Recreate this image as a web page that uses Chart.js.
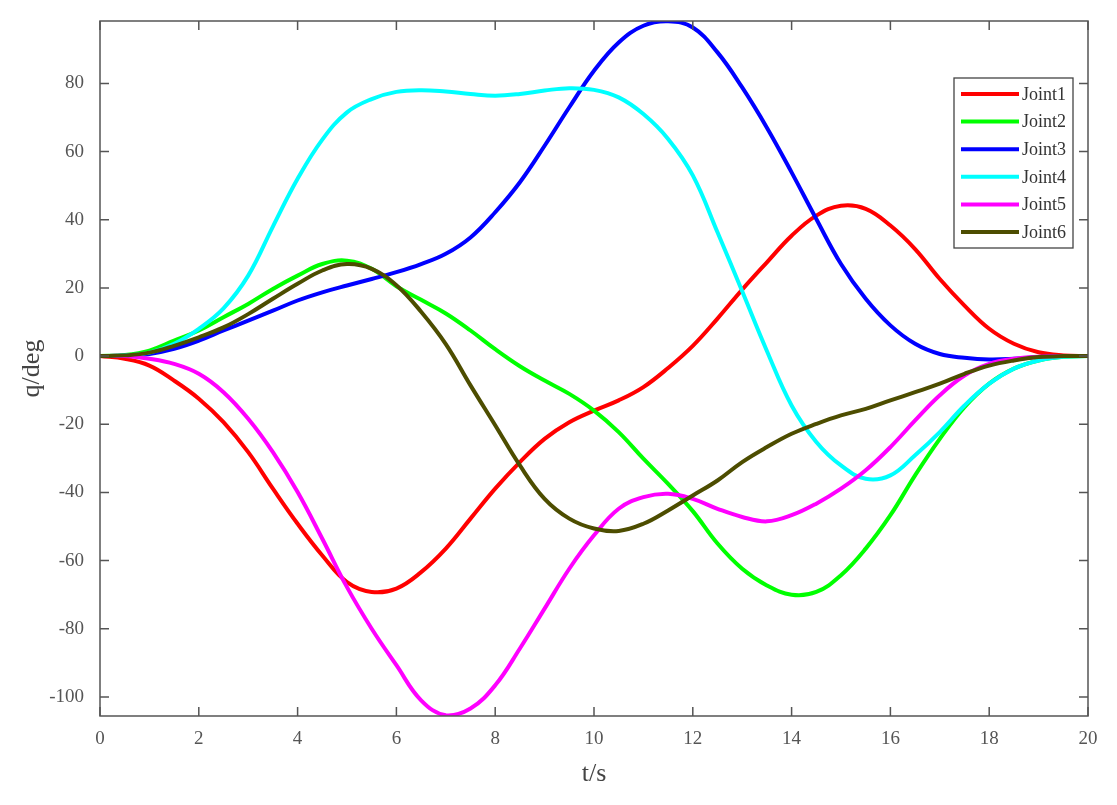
<!DOCTYPE html>
<html>
<head>
<meta charset="utf-8">
<script src="https://cdn.jsdelivr.net/npm/chart.js@4.4.1/dist/chart.umd.min.js"></script>
<style>
  html, body { margin: 0; padding: 0; background: #ffffff; }
  #wrap { width: 1117px; height: 805px; }
</style>
</head>
<body>
<div id="wrap"><canvas id="jointChart" width="1117" height="805"></canvas></div>
<script>
// time samples (s)
const timeValues = [0, 0.5, 1, 1.5, 2, 2.5, 3, 3.5, 4, 4.5, 5, 5.5, 6, 6.5, 7, 7.5, 8, 8.5, 9, 9.5,
    10, 10.5, 11, 11.5, 12, 12.5, 13, 13.5, 14, 14.5, 15, 15.5, 16, 16.5, 17, 17.5, 18, 18.5, 19, 19.5, 20];

// joint angles (deg)
const joint1 = [0, -0.8, -2.8, -7.2, -12.5, -19.4, -28.2, -38.9, -49.2, -58.5, -66.3, -69.2, -68.2, -63.4, -56.5, -47.7,
    -38.9, -31.1, -24.3, -19.4, -16, -13, -9.1, -3.5, 3, 11, 19.5, 27.5, 35.3, 41.2, 44.1, 43.2, 38.3, 31.4, 22.6, 14.8,
    8, 3.6, 1.1, 0.2, 0];
const joint2 = [0, 0.3, 1.6, 4.5, 7.5, 11.4, 15.3, 19.7, 23.6, 27, 28, 25.6, 20.5, 16.5, 12.5, 7.5,
    2, -3, -7.2, -11.1, -16, -22.3, -30.1, -37.5, -45.5, -55, -62.4, -67.3, -70, -69.2, -64.3, -56.5, -46.7, -35, -24.3, -15,
    -8.1, -3.7, -1.3, -0.2, 0];
const joint3 = [0, 0.1, 0.6, 2.1, 4.5, 7.5, 10.4, 13.3, 16.3, 18.7, 20.7, 22.6, 24.6, 27, 30, 34.8,
    42.2, 51, 61.7, 73, 83.7, 92, 96.9, 98.2, 96.4, 89.1, 78.8, 67, 53.9, 40.2, 27, 16.8, 9, 3.6, 0.6, -0.5,
    -1, -0.8, -0.3, 0, 0];
const joint4 = [0, 0.2, 1, 3.6, 8, 14, 23.6, 38, 52, 63.5, 71.5, 75.4, 77.5, 78, 77.6, 76.9,
    76.4, 76.9, 77.9, 78.6, 78.1, 75.9, 71, 63.7, 53, 36.3, 19, 1.5, -14.5, -25.2, -32.1, -36, -35, -29.1, -22.3, -14.5,
    -8.1, -3.7, -1.3, -0.2, 0];
const joint5 = [0, 0, -0.8, -2.3, -5.2, -10.6, -18.4, -28.2, -39.9, -53.6, -67.8, -80, -90.7, -101, -105.4, -103.4,
    -96.6, -85.8, -74.1, -62.4, -52.6, -44.8, -41.4, -40.4, -41.9, -44.8, -47.2, -48.5, -46.7, -43.3, -38.9, -33.5, -26.7, -18.9, -11.5, -5.7,
    -2.3, -0.8, -0.2, 0, 0];
const joint6 = [0, 0.2, 1, 3, 5.5, 8.4, 12.3, 16.8, 21.2, 25.1, 27, 25.6, 20.8, 13, 3.5, -8.6,
    -20.3, -32.1, -41.9, -47.7, -50.6, -51.3, -49.2, -45.3, -40.9, -36.5, -31.1, -26.7, -22.8, -19.9, -17.4, -15.5, -13, -10.6, -8.1, -5.2,
    -2.8, -1.3, -0.3, 0, 0];

const jointNames = ['Joint1', 'Joint2', 'Joint3', 'Joint4', 'Joint5', 'Joint6'];
const jointColors = ['#ff0000', '#00ff00', '#0000ff', '#00ffff', '#ff00ff', '#4d4d00'];
const jointSeries = [joint1, joint2, joint3, joint4, joint5, joint6];

const xTickValues = [0, 2, 4, 6, 8, 10, 12, 14, 16, 18, 20];
const yTickValues = [-100, -80, -60, -40, -20, 0, 20, 40, 60, 80];

const serif = '"Liberation Serif", "Times New Roman", serif';
const axisColor = '#555555';

// box around the plot with inward ticks on all four sides
const boxTicks = {
    id: 'boxTicks',
    afterDraw(chart) {
        const {ctx, chartArea: a, scales} = chart;
        const len = 9;
        ctx.save();
        ctx.strokeStyle = axisColor;
        ctx.lineWidth = 1.5;
        ctx.beginPath();
        scales.x.ticks.forEach(t => {
            const px = scales.x.getPixelForValue(t.value);
            ctx.moveTo(px, a.bottom);
            ctx.lineTo(px, a.bottom - len);
            ctx.moveTo(px, a.top);
            ctx.lineTo(px, a.top + len);
        });
        scales.y.ticks.forEach(t => {
            const py = scales.y.getPixelForValue(t.value);
            ctx.moveTo(a.left, py);
            ctx.lineTo(a.left + len, py);
            ctx.moveTo(a.right, py);
            ctx.lineTo(a.right - len, py);
        });
        ctx.stroke();
        ctx.strokeRect(a.left, a.top, a.right - a.left, a.bottom - a.top);
        ctx.restore();
    }
};

// legend box in the upper right corner
const cornerLegend = {
    id: 'cornerLegend',
    afterDraw(chart) {
        const {ctx, chartArea: a} = chart;
        const boxW = 119, boxH = 170;
        const x0 = a.right - 15 - boxW;
        const y0 = a.top + 57;
        const rowH = 27.6;
        ctx.save();
        ctx.fillStyle = '#ffffff';
        ctx.fillRect(x0, y0, boxW, boxH);
        ctx.strokeStyle = '#444444';
        ctx.lineWidth = 1.3;
        ctx.strokeRect(x0, y0, boxW, boxH);
        ctx.font = '18px ' + serif;
        ctx.textBaseline = 'middle';
        ctx.textAlign = 'left';
        chart.data.datasets.forEach((ds, i) => {
            const cy = y0 + 16 + i * rowH;
            ctx.strokeStyle = ds.borderColor;
            ctx.lineWidth = 4;
            ctx.beginPath();
            ctx.moveTo(x0 + 7, cy);
            ctx.lineTo(x0 + 65, cy);
            ctx.stroke();
            ctx.fillStyle = '#333333';
            ctx.fillText(ds.label, x0 + 68, cy + 1);
        });
        ctx.restore();
    }
};

const datasets = jointSeries.map((series, i) => ({
    label: jointNames[i],
    data: series.map((v, k) => ({x: timeValues[k], y: v})),
    borderColor: jointColors[i],
    backgroundColor: jointColors[i],
    borderWidth: 4,
    pointRadius: 0,
    fill: false,
    tension: 0.4,
    order: jointSeries.length - 1 - i
}));

new Chart(document.getElementById('jointChart').getContext('2d'), {
    type: 'line',
    data: { datasets: datasets },
    options: {
        responsive: false,
        animation: false,
        layout: {
            padding: { top: 21, right: 29, left: 0, bottom: 0 }
        },
        plugins: {
            legend: { display: false },
            tooltip: { enabled: false }
        },
        scales: {
            x: {
                type: 'linear',
                min: 0,
                max: 20,
                afterFit: (scale) => { scale.height = 89; },
                afterBuildTicks: (scale) => {
                    scale.ticks = xTickValues.map(v => ({ value: v }));
                },
                grid: { display: false },
                border: { display: false },
                ticks: {
                    padding: 4,
                    color: axisColor,
                    font: { family: serif, size: 19 }
                },
                title: {
                    display: true,
                    text: 't/s',
                    color: '#444444',
                    padding: { top: 0, bottom: 15 },
                    font: { family: serif, size: 26 }
                }
            },
            y: {
                type: 'linear',
                min: -105.6,
                max: 98.3,
                afterFit: (scale) => { scale.width = 100; },
                afterBuildTicks: (scale) => {
                    scale.ticks = yTickValues.map(v => ({ value: v }));
                },
                grid: { display: false },
                border: { display: false },
                ticks: {
                    padding: 8,
                    color: axisColor,
                    font: { family: serif, size: 19 }
                },
                title: {
                    display: true,
                    text: 'q/deg',
                    color: '#444444',
                    padding: { top: 17, bottom: 0 },
                    font: { family: serif, size: 26 }
                }
            }
        }
    },
    plugins: [boxTicks, cornerLegend]
});
</script>
</body>
</html>
